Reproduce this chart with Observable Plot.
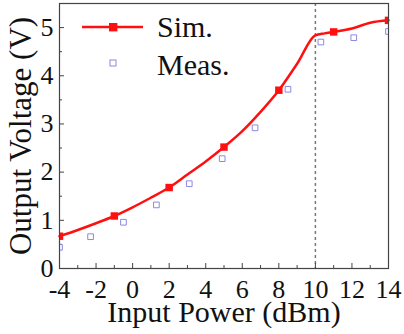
<!DOCTYPE html>
<html><head><meta charset="utf-8">
<script src="https://cdn.jsdelivr.net/npm/d3@7"></script>
<script src="https://cdn.jsdelivr.net/npm/@observablehq/plot@0.6"></script>
<style>
html,body{margin:0;padding:0;background:#fff;}
#wrap{position:relative;width:404px;height:334px;}
#legend{position:absolute;left:0;top:0;pointer-events:none;}
</style>
</head><body>
<div id="wrap"></div>
<script>
// Simulated curve (dense trace)
const simCurveX = [-4,-3,-2,-1,0,1,2,3,4,5,6,7,8,9,10,10.5,11,12,13,14];
const simCurveY = [0.67,0.80,0.94,1.09,1.27,1.47,1.68,1.95,2.22,2.52,2.85,3.25,3.70,4.25,4.84,4.88,4.91,4.98,5.10,5.15];
// Simulated markers
const simX = [-4,-1,2,5,8,11,14];
const simY = [0.67,1.09,1.68,2.52,3.70,4.91,5.15];
// Measured points
const measX = [-4,-2.3,-0.5,1.3,3.1,4.9,6.7,8.5,10.3,12.1,14];
const measY = [0.44,0.66,0.96,1.32,1.76,2.28,2.92,3.72,4.70,4.79,4.92];
// Ticks
const xMajor = [-4,-2,0,2,4,6,8,10,12,14];
const xMinor = [-3,-1,1,3,5,7,9,11,13];
const yMajor = [0,1,2,3,4,5];
const yMinor = [0.5,1.5,2.5,3.5,4.5,5.5];
const vLineX = [10];
const xTitle = ["Input Power (dBm)"];
const yTitle = ["Output Voltage (V)"];
const legendItems = ["Sim.", "Meas."];

const curve = simCurveX.map((x,i)=>({x, y: simCurveY[i]}));
const sim = simX.map((x,i)=>({x, y: simY[i]}));
const meas = measX.map((x,i)=>({x, y: measY[i]}));

const RED = "#ff1010";
const BLUE = "#8a8ae0";
const FONT = "Liberation Serif, Times New Roman, serif";
const fmt = d => String(d);

const chart = Plot.plot({
  width: 404, height: 334,
  marginLeft: 59, marginRight: 16, marginTop: 3, marginBottom: 66,
  style: {fontFamily: FONT, background: "#fff", color: "#111", fontSize: "26px"},
  x: {domain: [-4, 14]},
  y: {domain: [0, 5.5]},
  marks: [
    Plot.ruleX(vLineX, {stroke: "#777", strokeWidth: 1.5, strokeDasharray: "3,3"}),
    Plot.axisX(xMajor, {tickSize: 0, tickPadding: 11, fontSize: 26, tickFormat: fmt, label: null}),
    Plot.axisX(xMajor, {tickSize: -5, text: null, label: null, stroke: "#444"}),
    Plot.axisX(xMinor, {tickSize: -3, text: null, label: null, stroke: "#444"}),
    Plot.axisY(yMajor, {tickSize: 0, tickPadding: 6, fontSize: 26, tickFormat: fmt, label: null}),
    Plot.axisY(yMajor, {tickSize: -5, text: null, label: null, stroke: "#444"}),
    Plot.axisY(yMinor, {tickSize: -3, text: null, label: null, stroke: "#444"}),
    Plot.text(xTitle, {text: d => d, frameAnchor: "bottom", textAnchor: "middle", lineAnchor: "bottom", dy: 53, fontSize: 30, fill: "#111"}),
    Plot.text(yTitle, {text: d => d, frameAnchor: "left", textAnchor: "middle", lineAnchor: "middle", dx: -38, rotate: -90, fontSize: 31, fill: "#111"}),
    Plot.dot(meas, {x: "x", y: "y", symbol: "square", r: 3.2, stroke: BLUE, strokeWidth: 1, fill: "none", clip: true}),
    Plot.line(curve, {x: "x", y: "y", stroke: RED, strokeWidth: 2.5, curve: "monotone-x"}),
    Plot.dot(sim, {x: "x", y: "y", symbol: "square", r: 4.2, fill: RED, stroke: "none", clip: true}),
    Plot.frame({stroke: "#444", strokeWidth: 1.2})
  ]
});
document.getElementById("wrap").appendChild(chart);

// Legend overlay
const lg = d3.select("#wrap").append("svg").attr("id","legend").attr("width",404).attr("height",334);
lg.append("line").attr("x1",82).attr("x2",143).attr("y1",27).attr("y2",27).attr("stroke",RED).attr("stroke-width",2.5);
lg.append("rect").attr("x",109).attr("y",23).attr("width",8.4).attr("height",8.4).attr("fill",RED);
lg.append("rect").attr("x",110).attr("y",60).attr("width",6).attr("height",6).attr("fill","none").attr("stroke",BLUE);
lg.append("text").attr("x",157).attr("y",37).attr("font-family",FONT).attr("font-size",30).attr("fill","#111").text(legendItems[0]);
lg.append("text").attr("x",157).attr("y",75).attr("font-family",FONT).attr("font-size",30).attr("fill","#111").text(legendItems[1]);
</script>
</body></html>
